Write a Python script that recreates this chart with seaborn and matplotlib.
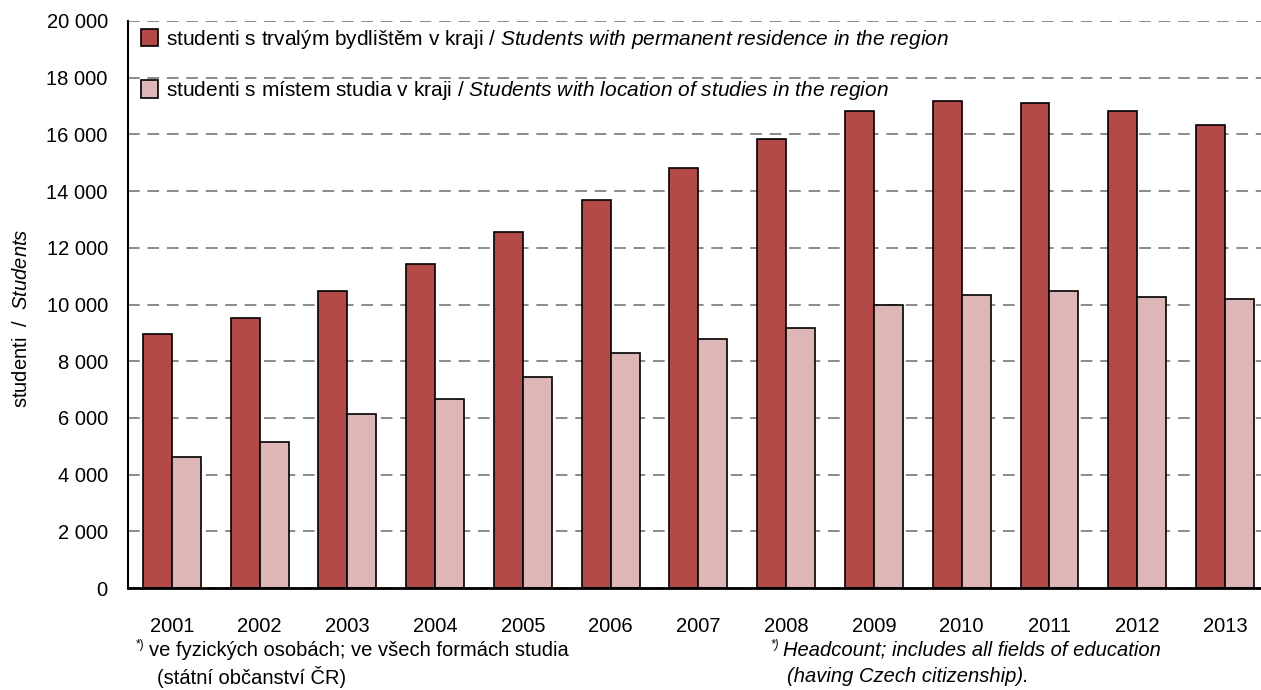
import numpy as np
import pandas as pd
import matplotlib
matplotlib.use("Agg")
import matplotlib.pyplot as plt
import seaborn as sns
from matplotlib.patches import Patch
from matplotlib.ticker import FuncFormatter, MultipleLocator, FixedLocator

years = [str(y) for y in range(2001, 2014)]
residence = [8970, 9530, 10490, 11440, 12540, 13670, 14820, 15850, 16820, 17170, 17110, 16820, 16330]
location = [4620, 5160, 6130, 6680, 7450, 8280, 8780, 9180, 10000, 10340, 10490, 10280, 10210]

lab_cz = ["studenti s trvalým bydlištěm v kraji / ",
          "studenti s místem studia v kraji / "]
lab_en = ["Students with permanent residence in the region",
          "Students with location of studies in the region"]

red = "#B34A48"
pink = "#DEB6B6"

sns.set_style("white")
plt.rcParams["font.family"] = ["Liberation Sans", "DejaVu Sans"]
plt.rcParams["mathtext.fontset"] = "custom"
plt.rcParams["mathtext.rm"] = "Liberation Sans"
plt.rcParams["mathtext.it"] = "Liberation Sans:italic"
for k in ["text.color", "axes.labelcolor", "xtick.color", "ytick.color"]:
    plt.rcParams[k] = "black"


def ital(s):
    return r"$\mathit{" + s.replace(" ", r"\ ") + "}$"


df = pd.DataFrame({
    "year": years * 2,
    "students": residence + location,
    "series": ["res"] * len(years) + ["loc"] * len(years),
})

W, H = 1261, 690
fig = plt.figure(figsize=(W / 100, H / 100), dpi=100)
ax = fig.add_axes([128 / W, 102 / H, 1133 / W, 567 / H])

sns.barplot(data=df, x="year", y="students", hue="series", palette=[red, pink],
            width=0.66, gap=0, saturation=1, edgecolor="black", linewidth=1.2,
            legend=False, ax=ax)

ax.set_xlim(-0.5, 12.41)
ax.set_ylim(0, 20000)
ax.yaxis.set_major_locator(MultipleLocator(2000))
ax.yaxis.set_major_formatter(FuncFormatter(lambda v, p: f"{v:,.0f}".replace(",", " ")))
ax.yaxis.grid(True, linestyle=(0, (6, 4)), color="#8a8a8a", linewidth=1.4)
ax.set_axisbelow(True)

for s in ["top", "right"]:
    ax.spines[s].set_visible(False)
ax.spines["left"].set_linewidth(1.5)
ax.spines["left"].set_color("black")
ax.spines["bottom"].set_linewidth(2)
ax.spines["bottom"].set_color("black")

ax.xaxis.set_minor_locator(FixedLocator(np.arange(-0.5, 13, 1)))
ax.tick_params(axis="x", which="major", length=0, pad=21, labelsize=14.5)
ax.tick_params(axis="x", which="minor", direction="inout", length=10, width=1.3, color="black")
ax.tick_params(axis="y", which="major", direction="inout", length=9, width=1.5,
               color="black", labelsize=14.5, pad=10)
ax.set_xlabel("")
ax.set_ylabel("studenti  /  " + ital("Students"), fontsize=14.5)
ax.yaxis.set_label_coords(-0.086, 0.476)

handles = [Patch(facecolor=red, edgecolor="black", linewidth=1.2),
           Patch(facecolor=pink, edgecolor="black", linewidth=1.2)]
labels = [lab_cz[i] + ital(lab_en[i]) for i in range(2)]
ax.legend(handles, labels, loc="upper left", bbox_to_anchor=(141 / W, 1 - 28 / H),
          bbox_transform=fig.transFigure, frameon=False, fontsize=15,
          handlelength=0.8, handleheight=0.9, handletextpad=0.4,
          labelspacing=1.35, borderpad=0, borderaxespad=0)

fig.text(136 / W, 1 - 645 / H, "*)", fontsize=8.5, va="center")
fig.text(149 / W, 1 - 650 / H, "ve fyzických osobách; ve všech formách studia",
         fontsize=14.5, va="center")
fig.text(157 / W, 1 - 677 / H, "(státní občanství ČR)", fontsize=14.5, va="center")

fig.text(770 / W, 1 - 645 / H, "*)", fontsize=8.5, va="center", style="italic")
fig.text(783 / W, 1 - 650 / H, "Headcount; includes all fields of education",
         fontsize=14.5, va="center", style="italic")
fig.text(787 / W, 1 - 677 / H, "(having Czech citizenship).",
         fontsize=14.5, va="center", style="italic")

fig.savefig("out.png", dpi=100)
